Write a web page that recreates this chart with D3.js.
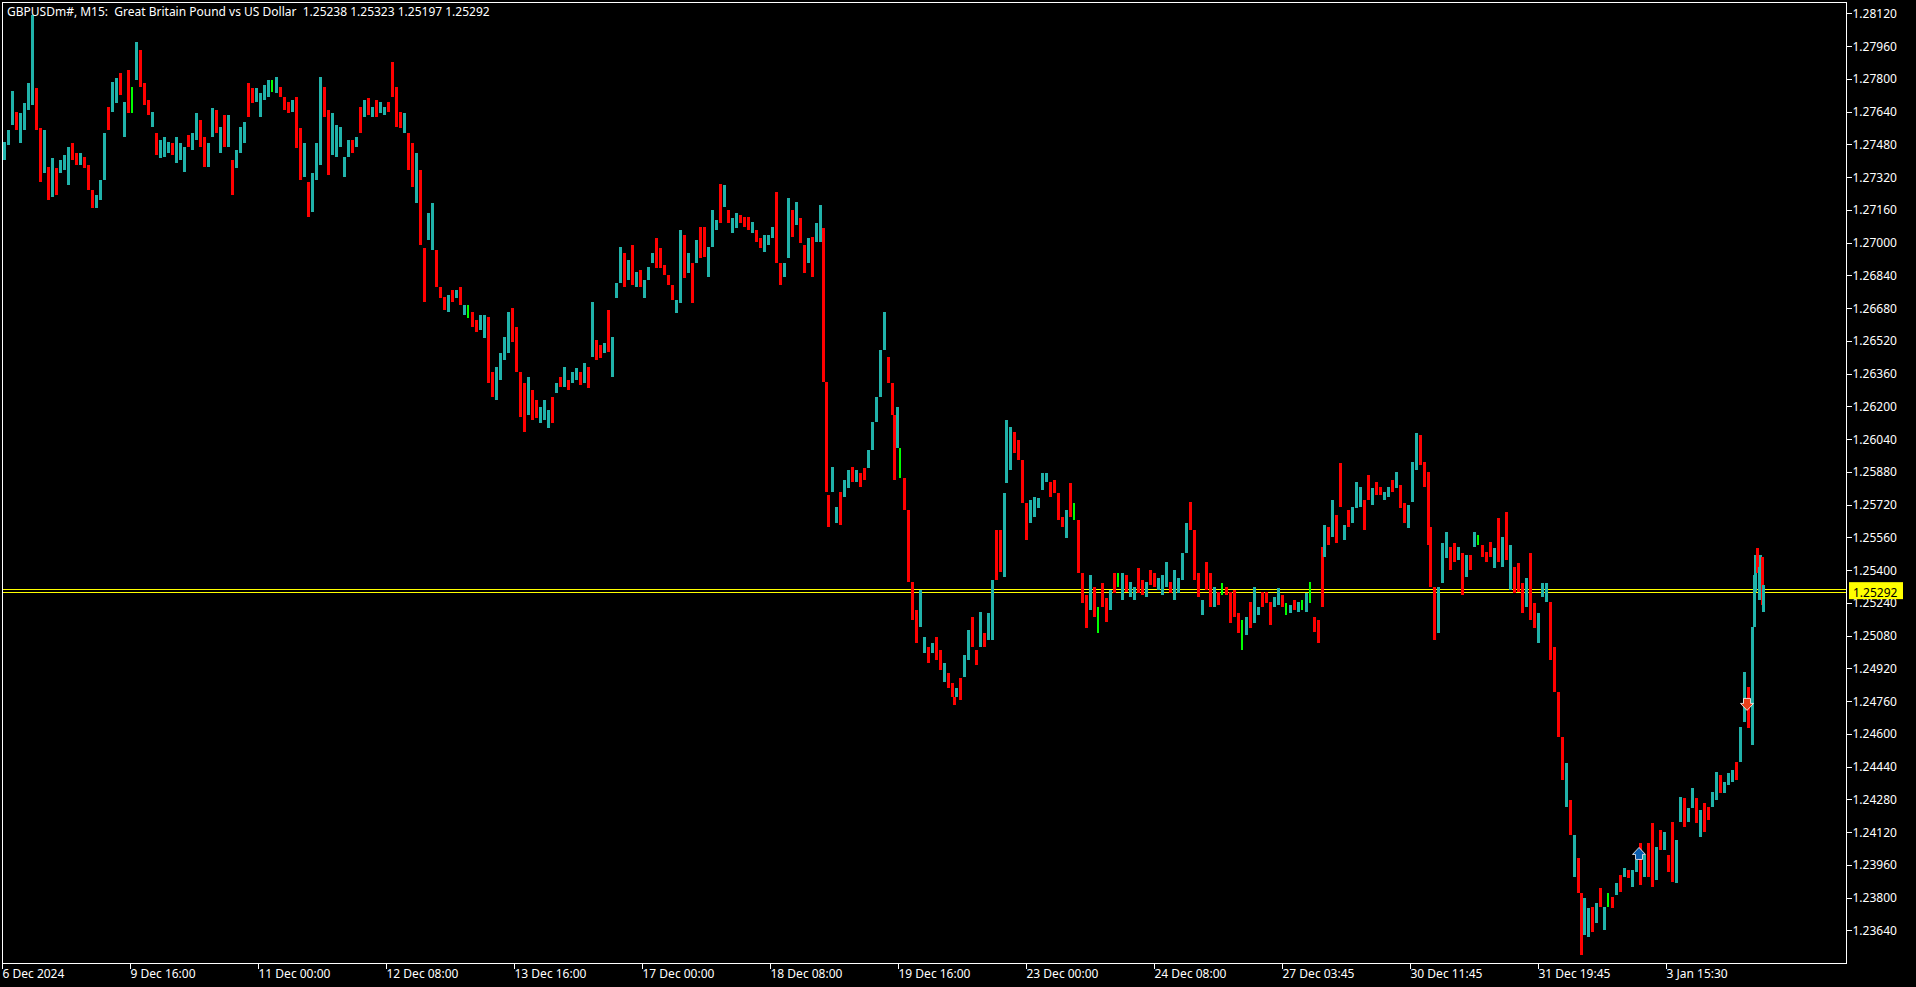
<!DOCTYPE html>
<html>
<head>
<meta charset="utf-8">
<script src="https://cdn.jsdelivr.net/npm/d3@7/dist/d3.min.js"></script>
<style>
html,body{margin:0;padding:0;background:#000;overflow:hidden}
svg{display:block}
text{font-family:"Noto Sans",sans-serif;font-size:12px;fill:#fff}
</style>
</head>
<body>
<svg id="c" width="1916" height="987"></svg>
<script>
const title = "GBPUSDm#, M15:\u00a0\u00a0Great Britain Pound vs US Dollar\u00a0\u00a01.25238 1.25323 1.25197 1.25292";
const priceTicks = [1.2812,1.2796,1.278,1.2764,1.2748,1.2732,1.2716,1.27,1.2684,1.2668,1.2652,1.2636,1.262,1.2604,1.2588,1.2572,1.2556,1.254,1.2524,1.2508,1.2492,1.2476,1.246,1.2444,1.2428,1.2412,1.2396,1.238,1.2364];
const timeBars = [2,130,258,386,514,642,770,898,1026,1154,1282,1410,1538,1666];
const timeLabels = ["6 Dec 2024","9 Dec 16:00","11 Dec 00:00","12 Dec 08:00","13 Dec 16:00","17 Dec 00:00","18 Dec 08:00","19 Dec 16:00","23 Dec 00:00","24 Dec 08:00","27 Dec 03:45","30 Dec 11:45","31 Dec 19:45","3 Jan 15:30"];
const bidPrice = 1.25292;
const askPrice = 1.25306;
const buyBar = 1639, buyPrice = 1.24013;
const sellBar = 1747, sellPrice = 1.24746;

// bar number along the time axis, prices in points (1e-5)
const bars = [
4,8,12,16,20,24,28,32,36,40,
44,48,52,56,60,64,68,72,76,80,
84,88,92,96,100,104,108,112,116,120,
124,128,132,136,140,144,148,152,156,160,
164,168,172,176,180,184,188,192,196,200,
204,208,212,216,220,224,228,232,236,240,
244,248,252,256,260,264,268,272,276,280,
284,288,292,296,300,304,308,312,316,320,
324,328,332,336,340,344,348,352,356,360,
364,368,372,376,380,384,388,392,396,400,
404,408,412,416,420,424,428,432,436,440,
444,448,452,456,460,464,468,472,476,480,
484,488,492,496,500,504,508,512,516,520,
524,528,532,536,540,544,548,552,556,560,
564,568,572,576,580,584,588,592,596,600,
604,608,612,616,620,624,628,632,636,640,
644,648,652,656,660,664,668,672,676,680,
684,688,692,696,700,704,708,712,716,720,
724,728,732,736,740,744,748,752,756,760,
764,768,772,776,780,784,788,792,796,800,
804,808,812,816,820,823,826,828,832,836,
840,844,848,852,856,860,864,868,872,876,
880,884,888,892,894,897,900,904,908,912,
916,920,924,928,932,936,940,944,948,952,
954,956,960,964,968,972,976,980,984,988,
992,996,1000,1004,1006,1010,1014,1018,1022,1026,
1030,1034,1038,1042,1046,1050,1054,1058,1062,1066,
1070,1074,1078,1082,1086,1090,1094,1098,1102,1106,
1110,1114,1118,1122,1126,1130,1134,1138,1142,1146,
1150,1154,1158,1162,1166,1170,1174,1178,1182,1186,
1190,1194,1198,1202,1206,1210,1214,1218,1222,1226,
1230,1234,1238,1242,1246,1250,1254,1258,1262,1266,
1270,1274,1278,1282,1286,1290,1294,1298,1302,1306,
1310,1314,1318,1322,1324,1328,1332,1336,1340,1344,
1348,1352,1356,1360,1364,1368,1372,1376,1380,1384,
1388,1392,1396,1400,1404,1408,1412,1416,1420,1424,
1428,1430,1434,1438,1442,1446,1450,1454,1458,1462,
1466,1470,1474,1478,1482,1486,1490,1494,1498,1502,
1506,1510,1514,1518,1522,1526,1530,1534,1538,1542,
1546,1550,1554,1558,1562,1566,1570,1574,1578,1581,
1584,1588,1592,1596,1600,1604,1608,1612,1616,1620,
1624,1628,1632,1636,1640,1644,1648,1652,1656,1660,
1664,1668,1672,1676,1680,1684,1688,1692,1696,1700,
1704,1708,1712,1716,1720,1724,1728,1732,1736,1740,
1744,1748,1752,1754,1755,1757,1759,1760,1762,1763
];
const highs = [
127491,127550,127740,127638,127633,127682,127780,128112,127755,127560,
127550,127369,127413,127364,127403,127428,127467,127486,127438,127438,
127418,127379,127257,127232,127306,127535,127662,127784,127804,127828,
127687,127843,127760,127980,127941,127780,127696,127638,127535,127501,
127516,127491,127486,127516,127486,127467,127526,127535,127633,127599,
127516,127486,127657,127648,127565,127623,127623,127403,127452,127565,
127589,127780,127755,127755,127731,127770,127794,127794,127809,127760,
127711,127687,127696,127711,127560,127486,127296,127340,127486,127809,
127760,127648,127633,127574,127565,127418,127501,127501,127516,127662,
127696,127706,127662,127696,127687,127662,127687,127882,127760,127638,
127633,127535,127486,127438,127355,126973,127144,127193,126964,126783,
126734,126744,126768,126768,126783,126695,126695,126661,126622,126646,
126646,126636,126368,126392,126461,126539,126661,126680,126588,126368,
126314,126343,126280,126231,126197,126231,126182,126246,126314,126343,
126392,126329,126368,126387,126368,126412,126392,126710,126524,126500,
126509,126671,126539,126803,126978,126949,126915,126988,126856,126866,
126817,126881,126949,127022,126974,126890,126842,126793,126720,127061,
127037,126949,126900,127013,127076,127076,126978,127159,127110,127286,
127281,127159,127120,127144,127135,127125,127125,127100,127061,127022,
127037,127037,127076,127247,126900,126900,127218,127159,127198,127120,
126988,127022,127027,127096,127183,127071,126319,125767,125904,125708,
125782,125840,125889,125904,125889,125874,125899,125987,126123,126246,
126475,126661,126441,126314,126158,126197,125996,125850,125694,125342,
125205,125303,125073,125024,125044,125073,125010,124946,124897,124848,
124780,124824,124873,124985,125108,125171,125010,125195,125093,125190,
125352,125596,125596,125777,126133,126099,126075,126036,125938,125728,
125742,125757,125752,125874,125874,125830,125840,125777,125660,125694,
125826,125728,125645,125386,125278,125376,125317,125220,125337,125264,
125303,125386,125386,125386,125376,125342,125317,125410,125352,125342,
125400,125386,125361,125376,125440,125342,125400,125361,125483,125630,
125733,125596,125386,125254,125440,125386,125317,125293,125337,125317,
125293,125303,125190,125156,125171,125244,125317,125220,125293,125293,
125244,125269,125313,125278,125239,125230,125254,125244,125254,125288,
125342,125171,125156,125513,125620,125611,125743,125669,125923,125620,
125694,125708,125830,125806,125743,125864,125801,125830,125806,125781,
125806,125840,125879,125816,125728,125718,125928,126070,126060,125928,
125879,125611,125317,125317,125532,125586,125513,125532,125513,125483,
125474,125474,125586,125572,125523,125488,125537,125508,125655,125562,
125684,125523,125415,125435,125337,125361,125483,125239,125190,125337,
125337,125244,125024,124804,124585,124458,124277,124106,123994,123823,
123798,123749,123754,123774,123847,123754,123823,123803,123872,123911,
123945,123935,123935,123984,124067,124008,124067,124165,124047,124130,
124121,124008,124170,124081,124292,124287,124238,124336,124287,124228,
124263,124243,124316,124414,124399,124365,124409,124424,124463,124634,
124902,124829,125122,125376,125474,125508,125415,125474,125464,125327
];
const lows = [
127403,127477,127574,127550,127486,127550,127648,127672,127550,127296,
127340,127208,127223,127232,127340,127355,127281,127403,127379,127379,
127364,127257,127169,127169,127208,127306,127550,127638,127682,127721,
127516,127633,127633,127794,127760,127672,127623,127565,127428,127413,
127418,127438,127428,127389,127403,127345,127467,127452,127501,127467,
127369,127369,127516,127535,127438,127467,127467,127232,127364,127438,
127486,127613,127682,127687,127613,127696,127711,127736,127731,127711,
127648,127633,127638,127462,127306,127320,127125,127149,127306,127379,
127613,127330,127428,127418,127467,127320,127418,127438,127467,127535,
127613,127623,127613,127613,127633,127623,127638,127711,127565,127560,
127535,127355,127271,127193,126988,126710,127013,126964,126783,126729,
126671,126661,126710,126729,126695,126646,126632,126588,126563,126573,
126534,126314,126246,126231,126329,126426,126461,126514,126368,126148,
126075,126158,126133,126143,126119,126133,126094,126119,126265,126294,
126294,126280,126314,126329,126304,126314,126290,126441,126426,126436,
126461,126465,126343,126729,126803,126783,126817,126793,126783,126783,
126729,126817,126900,126876,126876,126842,126793,126720,126656,126705,
126827,126851,126705,126900,126925,126930,126832,126978,127061,127096,
127174,127096,127047,127071,127096,127076,127061,127047,127003,126974,
126954,126988,127022,126900,126793,126832,126925,127027,127086,126998,
126851,126900,126832,127003,127003,126319,125782,125611,125782,125630,
125620,125757,125801,125830,125830,125806,125840,125899,125987,126123,
126246,126475,126314,126158,125840,125996,125850,125694,125342,125156,
125044,125122,124995,124946,124995,124961,124912,124853,124824,124780,
124741,124780,124766,124878,124961,125024,124936,125024,125024,125059,
125059,125352,125391,125366,125826,125889,125972,125938,125728,125547,
125630,125660,125703,125791,125830,125757,125777,125645,125611,125557,
125660,125645,125386,125239,125117,125205,125171,125093,125220,125146,
125205,125288,125317,125254,125293,125269,125254,125288,125278,125269,
125327,125317,125303,125278,125317,125288,125254,125288,125352,125483,
125596,125352,125269,125181,125303,125220,125220,125230,125278,125278,
125142,125171,125093,125010,125083,125117,125142,125181,125220,125239,
125132,125220,125230,125220,125181,125190,125205,125195,125205,125195,
125239,125098,125044,125220,125464,125523,125562,125532,125708,125547,
125611,125630,125703,125708,125596,125743,125718,125767,125767,125743,
125757,125781,125801,125703,125630,125606,125733,125889,125913,125806,
125523,125317,125059,125093,125337,125459,125400,125440,125449,125278,
125366,125400,125513,125523,125464,125440,125464,125410,125440,125415,
125449,125303,125288,125293,125190,125220,125156,125117,125044,125269,
125244,124961,124804,124585,124375,124243,124106,123901,123823,123520,
123618,123608,123632,123676,123754,123642,123754,123749,123813,123828,
123901,123896,123852,123925,123862,123901,123901,123852,123886,124033,
124033,123925,123876,123872,124170,124145,124170,124238,124165,124096,
124121,124179,124243,124277,124311,124311,124350,124365,124375,124463,
124658,124629,124546,125122,125293,125386,125254,125337,125230,125195
];
// t = up bar, r = down bar, g = doji
const dirs = (
"tttrttttrr"+"trtrtttrrt"+"rrrtttrttr"+"trgtrrrtrt"+"ttrtttrttr"+
"rttrtrtrtt"+"trrttttgtr"+"rrtrrtrttt"+"rrtttttrtr"+"trtrttrrrr"+
"trrtrrttrr"+"rtrtrtgrrt"+"trrttttrrr"+"rtrrtttrtr"+"trttrtrtrr"+
"trtttrtrtr"+"tttrrrrrtt"+"rtrtrrtttr"+"trttrrrtrr"+"tttrrttrtr"+
"rtrttrrrtt"+"rttrtrrttt"+"ttrrrtgrrr"+"rttrtrrtrr"+"rtrttrrtrt"+
"trrtttrrrr"+"tttttrrrrt"+"rgrrrtrgrr"+"trgtrttrrt"+"rrtttrtttt"+
"rrrtrrtrgr"+"rrrgtrttrr"+"rttrgtrtgt"+"grrrtrtrrt"+"rtttrrtrrt"+
"trtrrttt"+"rr"+"rrrtttrrtr"+"trtgrrrtrt"+"rtrrrtrrtt"+"trrrrtrtrr"+
"ttrtrtgrtr"+"trttrtrrtr"+"trrttrttrt"+"rrttrtttrt"+"trtttrttrt"
).split("");

const W = 1916, H = 987;
const frameL = 2.5, frameT = 2.5, frameR = 1846.5, frameB = 963.5;
const x = d3.scaleLinear().domain([0, W]).range([0, W]);
const y = d3.scaleLinear().domain([1.2812, 1.2364]).range([13.3, 930.3]);
const colour = {t:"#20b2aa", r:"#ff0000", g:"#00ff00"};

const svg = d3.select("#c");
svg.append("rect").attr("width",W).attr("height",H).attr("fill","#000");

// bid / ask lines
svg.selectAll("line.px").data([askPrice,bidPrice]).join("line").attr("class","px")
  .attr("x1",frameL).attr("x2",frameR)
  .attr("y1",d=>Math.round(y(d))+.5).attr("y2",d=>Math.round(y(d))+.5)
  .attr("stroke","#ffff00").attr("stroke-width",1).attr("shape-rendering","crispEdges");

// bars
const rows = bars.map((b,i)=>({b,h:highs[i]/1e5,l:lows[i]/1e5,d:dirs[i]}));
svg.append("g").attr("shape-rendering","crispEdges").selectAll("rect").data(rows).join("rect")
  .attr("x",d=>x(d.b)-1).attr("width",d=>d.d==="g"?2:3)
  .attr("y",d=>y(d.h)).attr("height",d=>Math.max(1,y(d.l)-y(d.h)))
  .attr("fill",d=>colour[d.d]||colour.t);

// trade arrows
const upPath = "M0,-6.5L6.5,0.5L3.5,0.5L3.5,5.5L-3.5,5.5L-3.5,0.5L-6.5,0.5Z";
const downPath = "M0,6.5L6.5,-0.5L3.5,-0.5L3.5,-5.5L-3.5,-5.5L-3.5,-0.5L-6.5,-0.5Z";
svg.append("path").attr("d",upPath)
  .attr("transform",`translate(${x(buyBar)},${y(buyPrice)})`)
  .attr("fill","#0a5eb0").attr("stroke","#fff").attr("stroke-width",0.8);
svg.append("path").attr("d",downPath)
  .attr("transform",`translate(${x(sellBar)},${y(sellPrice)})`)
  .attr("fill","#e8401c").attr("stroke","#fff").attr("stroke-width",0.8);

// frame
svg.append("rect").attr("x",frameL).attr("y",frameT)
  .attr("width",frameR-frameL).attr("height",frameB-frameT)
  .attr("fill","none").attr("stroke","#fff").attr("stroke-width",1).attr("shape-rendering","crispEdges");

// axes
const yAxis = d3.axisRight(y).tickValues(priceTicks).tickSize(5).tickPadding(1).tickFormat(d3.format(".5f"));
const gy = svg.append("g").attr("transform",`translate(${frameR},0)`).call(yAxis);
gy.select(".domain").remove();
gy.selectAll("line").attr("stroke","#fff").attr("shape-rendering","crispEdges");
gy.selectAll("text").attr("fill","#fff").style("font-family",'"Noto Sans",sans-serif').style("font-size","12px").attr("dy","0.34em");

const xAxis = d3.axisBottom(x).tickValues(timeBars).tickSize(5).tickPadding(1).tickFormat((d,i)=>timeLabels[i]);
const gx = svg.append("g").attr("transform",`translate(0,${frameB})`).call(xAxis);
gx.select(".domain").remove();
gx.selectAll("line").attr("stroke","#fff").attr("shape-rendering","crispEdges");
gx.selectAll("text").attr("text-anchor","start").attr("fill","#fff").style("font-family",'"Noto Sans",sans-serif').style("font-size","12px").attr("y",6);

// current price tag
svg.append("rect").attr("x",1849).attr("y",y(bidPrice)-10).attr("width",54).attr("height",17).attr("fill","#ffff00");
svg.append("text").attr("x",1853).attr("y",y(bidPrice)+4.5).style("fill","#000").text(d3.format(".5f")(bidPrice));

// title
svg.append("text").attr("x",7).attr("y",16).text(title);
</script>
</body>
</html>
